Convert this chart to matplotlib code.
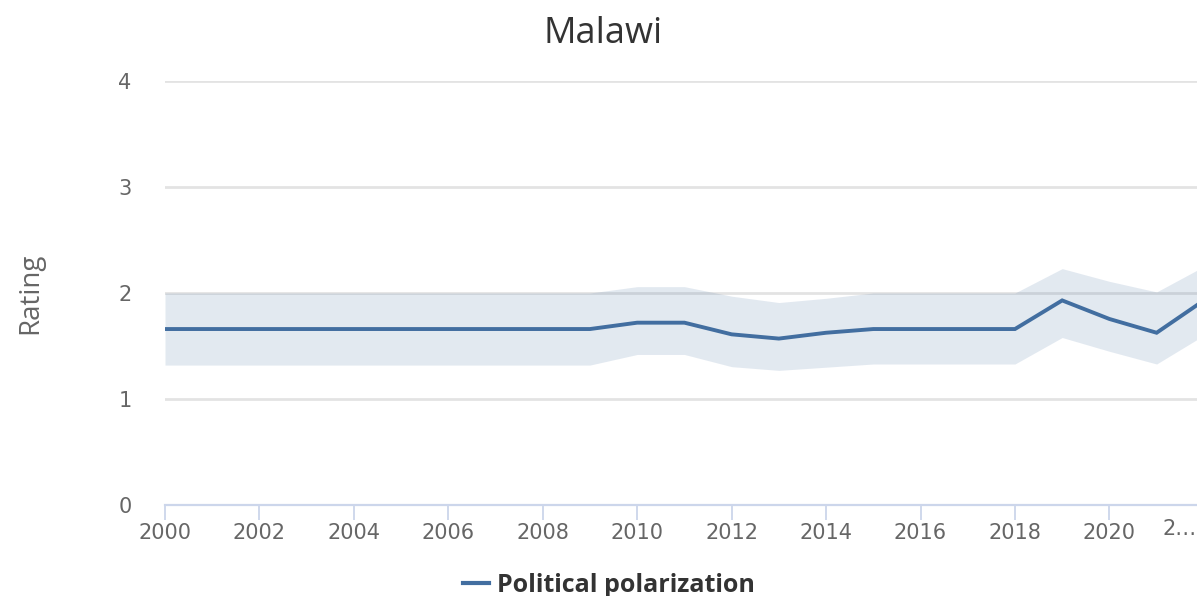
import matplotlib
matplotlib.use("Agg")
import matplotlib.pyplot as plt

plt.rcParams["font.family"] = ["Open Sans", "DejaVu Sans"]

# Political polarization rating for Malawi, with the uncertainty band
years = [2000, 2001, 2002, 2003, 2004, 2005, 2006, 2007, 2008, 2009, 2010,
         2011, 2012, 2013, 2014, 2015, 2016, 2017, 2018, 2019, 2020, 2021, 2022]
rating = [1.66, 1.66, 1.66, 1.66, 1.66, 1.66, 1.66, 1.66, 1.66, 1.66, 1.72,
          1.72, 1.61, 1.57, 1.625, 1.66, 1.66, 1.66, 1.66, 1.93, 1.755, 1.625, 1.93]
lower = [1.32, 1.32, 1.32, 1.32, 1.32, 1.32, 1.32, 1.32, 1.32, 1.32, 1.42,
         1.42, 1.305, 1.27, 1.30, 1.33, 1.33, 1.33, 1.33, 1.58, 1.45, 1.33, 1.60]
upper = [2.0, 2.0, 2.0, 2.0, 2.0, 2.0, 2.0, 2.0, 2.0, 2.0, 2.06,
         2.06, 1.97, 1.91, 1.95, 2.0, 2.0, 2.0, 2.0, 2.23, 2.11, 2.01, 2.25]
x_ticks = list(range(2000, 2021, 2))
y_ticks = [0, 1, 2, 3, 4]

line_color = "#426ea0"
text_grey = "#666666"
tick_font = "DejaVu Sans"

fig = plt.figure(figsize=(11.97, 5.96), dpi=100)
ax = fig.add_axes([165 / 1197, 1 - 505 / 596, 1 - 165 / 1197, (505 - 81) / 596])

ax.fill_between(years, lower, upper, color=line_color, alpha=0.15, linewidth=0, zorder=2)
ax.plot(years, rating, color=line_color, linewidth=2.8, zorder=3,
        solid_joinstyle="miter")

ax.set_xlim(2000, 2000 + (1197 - 165) / 47.22)
ax.set_ylim(0, 4)

# horizontal grid, no frame except the bottom axis line
for y in y_ticks[1:]:
    ax.axhline(y, color="#e3e3e3", linewidth=2, zorder=1)
for side in ["top", "right", "left"]:
    ax.spines[side].set_visible(False)
ax.spines["bottom"].set_color("#ccd6eb")
ax.spines["bottom"].set_linewidth(1.6)
ax.spines["bottom"].set_zorder(1)

ax.set_xticks(x_ticks)
ax.set_xticklabels([str(t) for t in x_ticks], family=tick_font)
ax.set_yticks(y_ticks)
ax.set_yticklabels([str(t) for t in y_ticks], family=tick_font)
ax.tick_params(axis="x", colors="#ccd6eb", length=11, width=1.3, pad=2,
               labelsize=15, labelcolor=text_grey)
ax.tick_params(axis="y", length=0, pad=24, labelsize=15, labelcolor=text_grey)

# truncated label for the last year at the cut-off edge
fig.text(1180 / 1197, 1 - 529 / 596, "2\u2026", ha="center", va="center",
         fontsize=15, family=tick_font, color=text_grey)

fig.text(603 / 1197, 1 - 34 / 596, "Malawi", ha="center", va="center",
         fontsize=26, color="#333333")
fig.text(30 / 1197, 1 - 293 / 596, "Rating", ha="center", va="center",
         rotation=90, fontsize=20, color=text_grey)

# legend entry
fig.lines.append(plt.Line2D([463 / 1197, 489 / 1197], [1 - 583 / 596, 1 - 583 / 596],
                            transform=fig.transFigure, color=line_color, linewidth=3))
fig.text(497 / 1197, 1 - 585 / 596, "Political polarization", ha="left", va="center",
         fontsize=18, fontweight="bold", color="#333333")

fig.savefig("out.png", dpi=100, facecolor="white")
